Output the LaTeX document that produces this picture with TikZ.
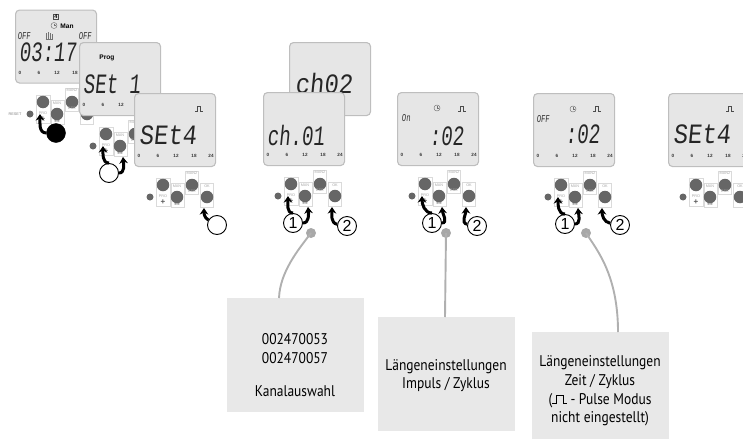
\documentclass[tikz,border=0pt]{standalone}
\usepackage{fontspec}
\usetikzlibrary{arrows.meta,calc}
\setmainfont{PT Sans}[FakeStretch=0.87]
\newfontfamily\lcdfont{Liberation Mono}[FakeSlant=0.1,FakeStretch=0.85]
\newfontfamily\lcdnarrow{Liberation Mono}[FakeSlant=0.1,FakeStretch=0.68]
\newfontfamily\smallfont{Liberation Sans}
\definecolor{lcdfill}{HTML}{E6E6E6}
\definecolor{lcdedge}{HTML}{BEBEBE}
\definecolor{keyedge}{HTML}{DADADA}
\definecolor{keyfill}{HTML}{666666}
\definecolor{labelgray}{HTML}{A8A8A8}
\definecolor{boxfill}{HTML}{E8E8E8}
\definecolor{linkgray}{HTML}{B0B0B0}
\newcommand\pulsesym{\rule{3.5pt}{1.5pt}\rule{.8pt}{9pt}\rule[8.2pt]{6pt}{.8pt}\rule{.8pt}{9pt}\rule{3.5pt}{1.5pt}}
\tikzset{
  lcdbox/.style={draw=lcdedge,line width=1.1pt,fill=lcdfill,rounded corners=4pt,minimum width=81pt,minimum height=73pt,inner sep=0pt,anchor=north west},
  ticklabel/.style={font=\smallfont\bfseries\fontsize{4.6}{5}\selectfont,text=black!80,inner sep=0pt},
  keybox/.style={draw=keyedge,line width=.8pt,fill=white,inner sep=0pt,anchor=north west},
  keybtn/.style={circle,fill=keyfill,inner sep=0pt,minimum size=12.5pt},
  keydot/.style={circle,fill=keyfill,inner sep=0pt,minimum size=7pt},
  keytext/.style={font=\smallfont\fontsize{3.8}{4}\selectfont,text=labelgray,inner sep=0pt},
  keysign/.style={font=\smallfont\bfseries\fontsize{8}{8}\selectfont,text=black!65,inner sep=0pt},
  lcdtext/.style={font=\lcdfont\fontsize{28}{28}\selectfont,inner sep=0pt,anchor=base west,text=black!85},
  lcdtextn/.style={font=\lcdnarrow\fontsize{28}{28}\selectfont,inner sep=0pt,anchor=base west,text=black!85},
  lcdsmall/.style={font=\lcdnarrow\fontsize{10.5}{10.5}\selectfont,inner sep=0pt,text=black!80},
  lcdbold/.style={font=\smallfont\bfseries\fontsize{6.6}{7}\selectfont,inner sep=0pt},
  bigarrow/.style={line width=3pt,black,-{Stealth[length=6.5pt,width=8.5pt]}},
  plaincircle/.style={circle,draw=black,line width=.9pt,fill=white,inner sep=0pt,minimum size=19pt},
  numcircle/.style={plaincircle,font=\smallfont\fontsize{16}{16}\selectfont},
  graydot/.style={circle,fill=labelgray,inner sep=0pt,minimum size=10pt},
  linkline/.style={draw=linkgray,line width=1.9pt},
  notebox/.style={fill=boxfill,minimum width=137pt,inner sep=0pt,anchor=north west},
  notetext/.style={align=center,inner sep=0pt,font=\fontsize{15.5}{18.8}\selectfont,text=black}
}
\newcommand\lcdscreen[3]{%
  \node[lcdbox] (#1) at (#2,#3) {};
  \foreach \tx/\tl in {5/0,24/6,42/12,60/18,77/24}{
    \node[ticklabel] (#1-t\tl) at ($(#2,#3)+(\tx,63)$) {\tl};
  }
}
\newcommand\pulseicon[3]{%
  \draw[line width=.5pt,black!70] (#2-4,#3+2.5) -- (#2-2,#3+2.5) -- (#2-2,#3-2.5) -- (#2+1.5,#3-2.5) -- (#2+1.5,#3+2.5) -- (#2+4,#3+2.5);
}
\newcommand\clockicon[2]{%
  \draw[line width=.45pt,black!55] (#1,#2) circle[radius=3pt];
  \draw[line width=.45pt,black!55] (#1,#2-2) -- (#1,#2) -- (#1+1.6,#2);
}
\newcommand\keypad[3]{%
  \begin{scope}[shift={(#2,#3)}]
    \node[keydot] (#1-reset) at (0,0) {};
    \node[keybox,minimum width=14pt,minimum height=28pt] (#1-probox) at (6,-19) {};
    \node[keybox,minimum width=13pt,minimum height=24pt] (#1-manbox) at (21,-14) {};
    \node[keybox,minimum width=13pt,minimum height=23pt] (#1-mzbox) at (35,-26) {};
    \node[keybox,minimum width=13pt,minimum height=24pt] (#1-okbox) at (50,-14) {};
    \node[keybtn] (#1-pro) at (13,-12) {};
    \node[keybtn] (#1-man) at (27,0) {};
    \node[keybtn] (#1-mz) at (42,-12) {};
    \node[keybtn] (#1-ok) at (57,0) {};
    \node[keytext] (#1-prol) at (13,-1) {PRO};
    \node[keysign] (#1-plus) at (13,5.5) {+};
    \node[keytext] (#1-manl) at (27,-11) {MAN};
    \node[keysign] (#1-minus) at (27,8) {--};
    \node[keytext] (#1-mzl) at (42,-24) {MAN2};
    \node[keytext] (#1-esc) at (42,-6) {ESC};
    \node[keytext] (#1-okl) at (57,-11) {OK};
    \coordinate (#1-tp) at (10,0);
    \coordinate (#1-tm) at (30,11);
    \coordinate (#1-to) at (54,11);
  \end{scope}
}
\begin{document}
\begin{tikzpicture}[x=1pt,y=-1pt]
\useasboundingbox (0,0) rectangle (743,439);
% --- first stack
\lcdscreen{s1}{15}{9.5}
\node[draw=black!70,line width=.5pt,inner sep=.8pt,font=\smallfont\bfseries\fontsize{5.5}{6}\selectfont] (s1-four) at (56,17) {4};
\clockicon{54}{25.5}
\node[lcdbold] (s1-man) at (67,26) {Man};
\node[lcdsmall] (s1-off1) at (24,36) {OFF};
\node[lcdsmall] (s1-off2) at (85,36) {OFF};
\draw[line width=.5pt,black!55] (46,39) -- (46,33) (48,39) -- (48,32) (50,39) -- (50,32.5) (52,39) -- (52,34) (45.5,39) -- (52.5,39);
\node[lcdtextn] (s1-time) at (19,61) {03:17};
\keypad{k1}{30}{114}
\node[keytext,text=black!50] (k1-resetl) at (15,114) {RESET};
\lcdscreen{s2}{79}{42}
\node[lcdbold] (s2-prog) at (107,58) {Prog};
\node[lcdtextn] (s2-set) at (83,93) {SEt 1};
\node[circle,fill=black,draw=black,inner sep=0pt,minimum size=19pt] (c1) at (56,133) {};
\draw[bigarrow] (c1.west) to[out=180,in=-90] (k1-tp);
\keypad{k2}{93}{146}
\lcdscreen{s3}{134}{93}
\pulseicon{s3p}{199}{109}
\node[lcdtext] (s3-set) at (139,144) {SEt4};
\node[plaincircle] (c2) at (109,173) {};
\draw[bigarrow] (c2.north) to[out=180,in=-90] (k2-tp);
\draw[bigarrow] (c2.east) to[out=0,in=-85] (k2-tm);
\keypad{k3}{150}{197}
\node[plaincircle] (c3) at (217,225) {};
\draw[bigarrow] (c3.150) to[out=150,in=-90] (k3-to);
% --- channel
\node[lcdbox] (s4) at (289,42) {};
\node[lcdtext] (s4-ch) at (295,93) {ch02};
\lcdscreen{s5}{263}{92}
\node[lcdtextn] (s5-ch) at (267,145) {ch.01};
\keypad{k4}{278}{196}
\node[numcircle] (n41) at (293,223) {1};
\node[numcircle] (n42) at (347,226) {2};
\draw[bigarrow] (n41.north) to[out=180,in=-90] (k4-tp);
\draw[bigarrow] (n41.east) to[out=0,in=-85] (k4-tm);
\draw[bigarrow] (n42.170) to[out=170,in=-90] (k4-to);
% --- on
\lcdscreen{s6}{397}{92}
\clockicon{437}{108}
\pulseicon{s6p}{462}{109}
\node[lcdsmall] (s6-on) at (406,118) {On};
\node[lcdtextn] (s6-val) at (429,145) {:02};
\keypad{k5}{412}{196}
\node[numcircle] (n51) at (432,223) {1};
\node[numcircle] (n52) at (477,226) {2};
\draw[bigarrow] (n51.north) to[out=180,in=-90] (k5-tp);
\draw[bigarrow] (n51.east) to[out=0,in=-85] (k5-tm);
\draw[bigarrow] (n52.170) to[out=170,in=-90] (k5-to);
% --- off
\lcdscreen{s7}{533}{93}
\clockicon{573}{109}
\pulseicon{s7p}{597}{109}
\node[lcdsmall] (s7-off) at (543,119) {OFF};
\node[lcdtextn] (s7-val) at (565,143) {:02};
\keypad{k6}{548}{197}
\node[numcircle] (n61) at (565,224) {1};
\node[numcircle] (n62) at (620,225) {2};
\draw[bigarrow] (n61.north) to[out=180,in=-90] (k6-tp);
\draw[bigarrow] (n61.east) to[out=0,in=-85] (k6-tm);
\draw[bigarrow] (n62.170) to[out=170,in=-90] (k6-to);
% --- last
\begin{scope}
\clip (0,0) rectangle (743,439);
\lcdscreen{s8}{668}{93}
\pulseicon{s8p}{730}{109}
\node[lcdtext] (s8-set) at (673,143) {SEt4};
\keypad{k7}{683}{197}
\end{scope}
% --- notes
\node[notebox,minimum height=114pt] (b1) at (227,298) {};
\node[notebox,minimum height=114pt] (b2) at (378,317) {};
\node[notebox,minimum height=107pt] (b3) at (532,332) {};
\node[notetext] (b1t) at (295,365) {002470053\\002470057\\[14pt]Kanalauswahl};
\node[notetext] (b2t) at (446,375.5) {Längeneinstellungen\\Impuls / Zyklus};
\node[notetext] (b3t) at (600,391) {Längeneinstellungen\\Zeit / Zyklus\\(\pulsesym\ - Pulse Modus\\nicht eingestellt)};
\coordinate (e1) at (279,298);
\coordinate (e2) at (445,317);
\coordinate (e3) at (618,332);
\node[graydot] (d1) at (311,233) {};
\node[graydot] (d2) at (446,233) {};
\node[graydot] (d3) at (586,233) {};
\draw[linkline] (d1.center) .. controls (298,250) and (280,272) .. (e1);
\draw[linkline] (d2.center) -- (e2);
\draw[linkline] (d3.center) .. controls (597,250) and (618,275) .. (e3);
\end{tikzpicture}
\end{document}
